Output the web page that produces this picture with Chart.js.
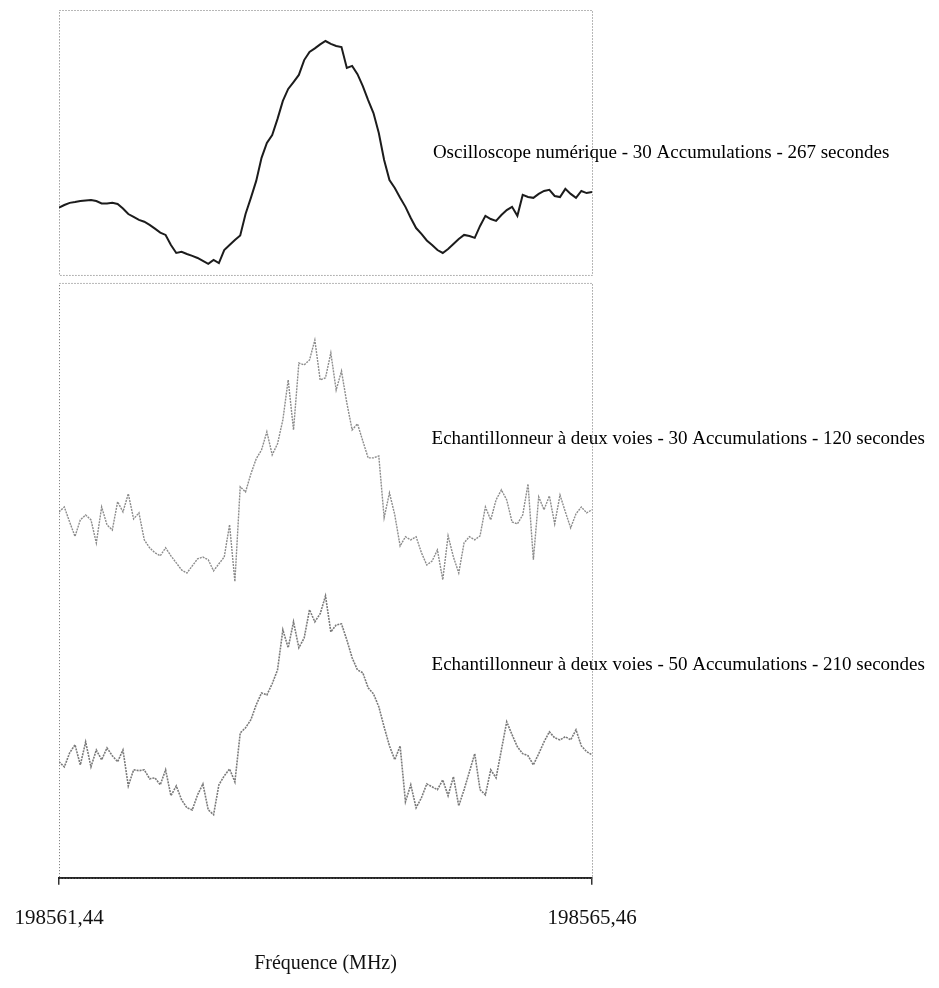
<!DOCTYPE html>
<html>
<head>
<meta charset="utf-8">
<script src="https://cdn.jsdelivr.net/npm/chart.js@4.4.1/dist/chart.umd.min.js"></script>
<style>
  html, body { margin: 0; padding: 0; background: #fff; }
  .wrap { width: 939px; height: 988px; position: relative; }
</style>
</head>
<body>
<div class="wrap"><canvas id="spectre"></canvas></div>
<script>
// balayage en fréquence (MHz)
const FREQ_START = 198561.44;
const FREQ_END = 198565.46;
const freqTicks = [198561.44, 198565.46];

// signaux relevés (unités relatives, 0-100 dans chaque bande)
const traceOscillo = [
  25.4, 26.4, 27.2, 27.5, 27.9, 28.1, 28.3, 27.9, 27.0, 27.0,
  27.2, 26.8, 25.1, 23.0, 21.9, 20.8, 20.1, 18.9, 17.5, 16.0,
  15.1, 11.3, 8.3, 8.7, 7.9, 7.2, 6.4, 5.3, 4.2, 5.7,
  4.5, 9.4, 11.3, 13.2, 14.9, 23.0, 29.1, 35.5, 44.2, 49.8,
  52.8, 58.9, 65.7, 70.2, 72.8, 75.5, 81.1, 84.2, 85.5, 87.0,
  88.3, 87.2, 86.4, 86.0, 78.1, 78.9, 75.8, 71.3, 66.0, 61.1,
  53.6, 43.4, 35.8, 32.8, 29.1, 25.7, 21.5, 17.7, 15.5, 13.0,
  11.3, 9.4, 8.3, 9.8, 11.7, 13.6, 15.1, 14.7, 14.0, 18.5,
  22.3, 21.1, 20.4, 22.6, 24.5, 25.7, 22.3, 30.2, 29.4, 29.1,
  30.6, 31.7, 32.1, 29.8, 29.4, 32.5, 30.6, 29.1, 31.7, 30.9,
  31.3
];
const traceEch30 = [
  25.4, 27.0, 22.1, 17.4, 22.8, 24.4, 22.8, 15.3, 27.0, 21.2,
  19.5, 28.7, 25.4, 31.3, 23.1, 25.1, 16.3, 13.7, 12.1, 11.1,
  13.7, 11.1, 8.8, 6.5, 5.5, 7.8, 10.1, 10.7, 9.8, 6.2,
  8.5, 10.7, 21.2, 2.7, 33.6, 31.9, 37.8, 42.7, 45.6, 51.5,
  44.0, 47.6, 55.4, 68.4, 52.1, 73.9, 73.3, 74.9, 81.4, 68.4,
  69.1, 77.2, 65.1, 71.3, 60.9, 52.1, 54.1, 48.5, 43.0, 43.0,
  43.6, 23.5, 31.6, 24.4, 14.3, 17.3, 16.3, 17.3, 12.1, 8.1,
  9.4, 13.0, 3.3, 17.6, 10.7, 5.5, 15.3, 17.3, 16.3, 17.6,
  27.0, 22.8, 29.3, 32.6, 29.3, 22.1, 21.5, 24.4, 34.5, 9.8,
  30.3, 26.1, 30.6, 21.5, 30.9, 25.4, 20.2, 24.8, 27.0, 25.1,
  26.1
];
const traceEch50 = [
  40.3, 38.5, 43.4, 46.2, 39.2, 47.2, 38.5, 44.4, 41.0, 45.1,
  42.4, 40.3, 44.4, 31.9, 37.5, 37.2, 37.5, 34.4, 34.7, 32.3,
  37.5, 28.5, 31.9, 27.1, 24.3, 23.6, 28.8, 32.6, 23.6, 21.9,
  32.3, 35.4, 37.8, 33.3, 50.3, 52.1, 54.9, 60.1, 64.2, 63.5,
  67.4, 72.2, 86.1, 79.9, 88.9, 79.9, 83.3, 93.1, 88.9, 91.7,
  97.9, 85.4, 87.8, 88.2, 82.6, 76.4, 72.2, 71.2, 66.0, 63.9,
  59.4, 52.4, 45.8, 41.0, 45.8, 26.4, 32.3, 24.3, 27.8, 32.6,
  31.6, 30.6, 34.0, 28.5, 35.1, 25.0, 30.6, 36.8, 43.1, 30.6,
  28.8, 37.5, 34.7, 44.4, 54.2, 49.7, 45.5, 43.1, 42.4, 39.2,
  43.1, 47.2, 50.7, 48.6, 47.9, 49.0, 47.9, 51.4, 45.8, 43.8,
  42.7
];

const traceLabels = [
  'Oscilloscope numérique - 30 Accumulations - 267 secondes',
  'Echantillonneur à deux voies - 30 Accumulations - 120 secondes',
  'Echantillonneur à deux voies - 50 Accumulations - 210 secondes'
];
const axisTitle = 'Fréquence (MHz)';

// où poser chaque légende (fréquence, niveau sur l'axe de la bande)
const labelAnchors = [
  { axis: 'yTop', freq: 198564.26, level: 46 },
  { axis: 'yMid', freq: 198564.25, level: 49 },
  { axis: 'yBot', freq: 198564.25, level: 74 }
];

const SERIF = '"Liberation Serif", "Times New Roman", serif';

function toPoints(values) {
  const step = (FREQ_END - FREQ_START) / (values.length - 1);
  return values.map((v, i) => ({ x: FREQ_START + i * step, y: v }));
}

// cadres pointillés autour des deux bandes
const panelFrames = {
  id: 'panelFrames',
  beforeDatasetsDraw(chart) {
    const { ctx, chartArea, scales } = chart;
    const frames = [
      [scales.yTop.top, scales.yTop.bottom],
      [scales.yMid.top, scales.yBot.bottom]
    ];
    ctx.save();
    ctx.strokeStyle = '#6f6f6f';
    ctx.lineWidth = 1;
    ctx.setLineDash([1, 2]);
    frames.forEach(([top, bottom]) => {
      ctx.strokeRect(chartArea.left + 0.5, top + 0.5, chartArea.right - chartArea.left, bottom - top);
    });
    ctx.restore();
  }
};

const traceNotes = {
  id: 'traceNotes',
  afterDraw(chart) {
    const { ctx, scales } = chart;
    ctx.save();
    ctx.fillStyle = '#000';
    ctx.font = '19px ' + SERIF;
    ctx.textAlign = 'left';
    ctx.textBaseline = 'middle';
    labelAnchors.forEach((a, i) => {
      const x = scales.x.getPixelForValue(a.freq);
      const y = scales[a.axis].getPixelForValue(a.level);
      ctx.fillText(traceLabels[i], x, y);
    });
    ctx.restore();
  }
};

new Chart(document.getElementById('spectre'), {
  type: 'line',
  data: {
    datasets: [
      {
        data: toPoints(traceOscillo),
        yAxisID: 'yTop',
        borderColor: '#1c1c1c',
        borderWidth: 2
      },
      {
        data: toPoints(traceEch30),
        yAxisID: 'yMid',
        borderColor: '#8c8c8c',
        borderWidth: 1.4,
        borderDash: [2, 1]
      },
      {
        data: toPoints(traceEch50),
        yAxisID: 'yBot',
        borderColor: '#7a7a7a',
        borderWidth: 1.6,
        borderDash: [2, 1]
      }
    ]
  },
  options: {
    responsive: true,
    maintainAspectRatio: false,
    animation: false,
    elements: { point: { radius: 0 }, line: { tension: 0 } },
    layout: { padding: { left: 59, right: 347, top: 10, bottom: 12 } },
    plugins: {
      legend: { display: false },
      tooltip: { enabled: false }
    },
    scales: {
      x: {
        type: 'linear',
        min: FREQ_START,
        max: FREQ_END,
        afterBuildTicks: axis => { axis.ticks = freqTicks.map(v => ({ value: v })); },
        // les étiquettes débordent dans la marge, sans pousser la zone du graphe
        afterFit: axis => { axis.paddingLeft = 0; axis.paddingRight = 0; },
        ticks: {
          autoSkip: false,
          maxRotation: 0,
          padding: 21,
          color: '#111',
          font: { family: SERIF, size: 21 },
          callback: v => v.toFixed(2).replace('.', ',')
        },
        grid: { drawOnChartArea: false, tickLength: 7, color: '#333', lineWidth: 1.5 },
        border: { color: '#222', width: 2 },
        title: {
          display: true,
          text: axisTitle,
          color: '#111',
          font: { family: SERIF, size: 20 },
          padding: { top: 0, bottom: 0 }
        }
      },
      yTop: { type: 'linear', display: false, position: 'right', stack: 'bandes', stackWeight: 265, weight: 1, min: 0, max: 100 },
      yGap: { type: 'linear', display: false, position: 'right', stack: 'bandes', stackWeight: 8, weight: 2, min: 0, max: 1 },
      yMid: { type: 'linear', display: false, position: 'right', stack: 'bandes', stackWeight: 307, weight: 3, min: 0, max: 100 },
      yBot: { type: 'linear', display: false, position: 'right', stack: 'bandes', stackWeight: 288, weight: 4, min: 0, max: 100 }
    }
  },
  plugins: [panelFrames, traceNotes]
});
</script>
</body>
</html>
